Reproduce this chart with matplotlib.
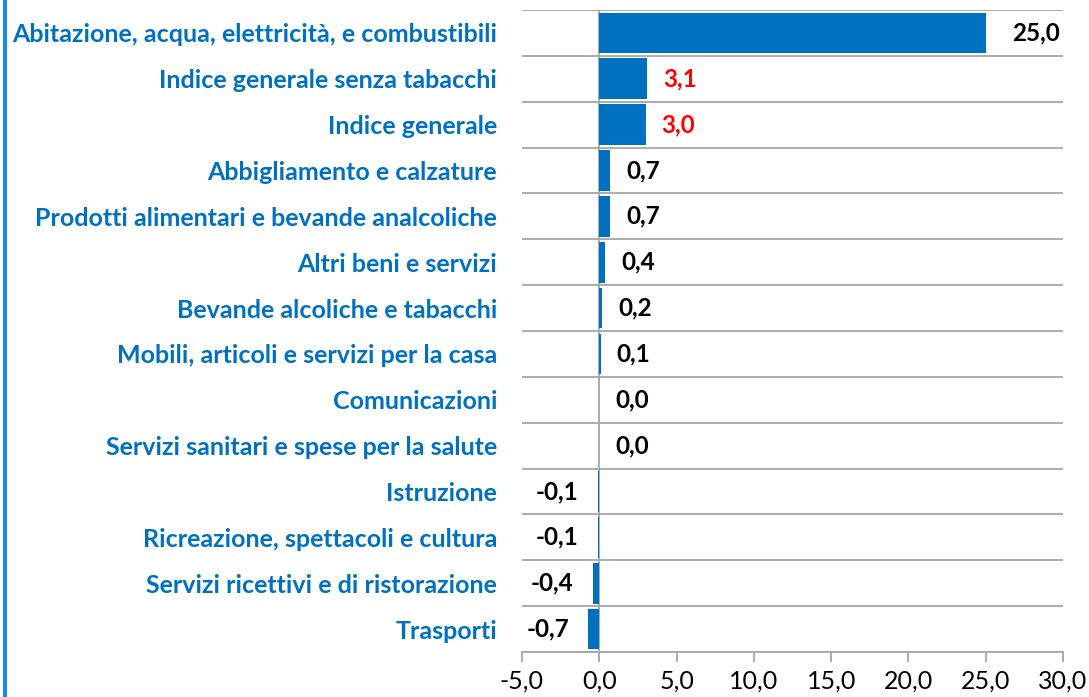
import numpy as np
import matplotlib.pyplot as plt
from matplotlib.lines import Line2D

# categories and values (top to bottom)
categories = [
    "Abitazione, acqua, elettricità, e combustibili",
    "Indice generale senza tabacchi",
    "Indice generale",
    "Abbigliamento e calzature",
    "Prodotti alimentari e bevande analcoliche",
    "Altri beni e servizi",
    "Bevande alcoliche e tabacchi",
    "Mobili, articoli e servizi per la casa",
    "Comunicazioni",
    "Servizi sanitari e spese per la salute",
    "Istruzione",
    "Ricreazione, spettacoli e cultura",
    "Servizi ricettivi e di ristorazione",
    "Trasporti",
]
values = [25.0, 3.1, 3.0, 0.7, 0.7, 0.4, 0.2, 0.1, 0.0, 0.0, -0.1, -0.1, -0.4, -0.7]
highlight = ["Indice generale senza tabacchi", "Indice generale"]
xticks = [-5, 0, 5, 10, 15, 20, 25, 30]

plt.rcParams['font.family'] = ['Lato', 'DejaVu Sans']

blue = '#0070C0'
grid_c = '#A6A6A6'

fig = plt.figure(figsize=(10.89, 6.97), dpi=100)
ax = fig.add_axes([522/1089, 1 - 652/697, (1063-522)/1089, (652-10)/697])

y = np.arange(len(categories))
ax.barh(y, values, height=0.89, color=blue, zorder=3)

ax.set_ylim(len(categories) - 0.5, -0.5)
ax.set_xlim(-5, 30)

# gridlines at category boundaries
for b in np.arange(-0.5, len(categories), 1.0):
    ax.axhline(b, color=grid_c, lw=1.3, zorder=1)
ax.axvline(0, color=grid_c, lw=1.3, zorder=2)

ax.set_yticks(y)
ax.set_yticklabels(categories, color=blue, fontweight='bold', fontsize=18)
ax.tick_params(axis='y', length=0, pad=18)

ax.set_xticks(xticks)
ax.set_xticklabels([f"{v:.1f}".replace('.', ',') for v in xticks], fontsize=18)
ax.tick_params(axis='x', length=7, width=1.3, color=grid_c, pad=6)

for s in ['top', 'right', 'left']:
    ax.spines[s].set_visible(False)
ax.spines['bottom'].set_color(grid_c)
ax.spines['bottom'].set_linewidth(1.3)

# value labels
vmax = max(values)
for yi, v, cat in zip(y, values, categories):
    col = '#FF0000' if cat in highlight else 'black'
    txt = f"{v:.1f}".replace('.', ',')
    if v < 0:
        ax.annotate(txt, (v, yi), xytext=(-14, 0), textcoords='offset points',
                    ha='right', va='center', fontsize=17.5, fontweight='bold', color=col)
    else:
        off = 19 if v == vmax else 11.5
        ax.annotate(txt, (v, yi), xytext=(off, 0), textcoords='offset points',
                    ha='left', va='center', fontsize=17.5, fontweight='bold', color=col)

# blue border line on the left
fig.add_artist(Line2D([5/1089, 5/1089], [0, 1], color='#1E88E5', lw=3))

fig.savefig('out.png', dpi=100)
